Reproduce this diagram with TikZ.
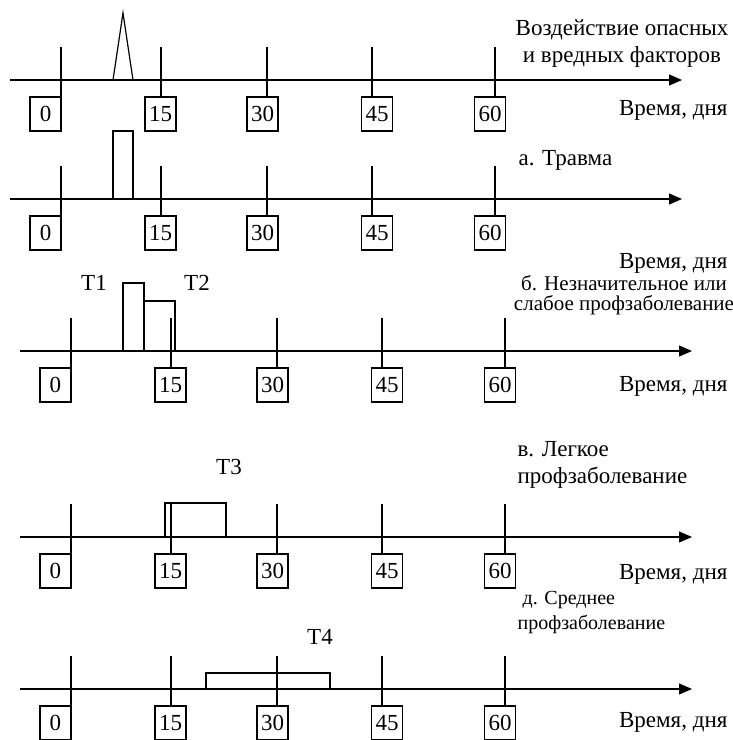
\documentclass[tikz,border=0pt]{standalone}
\usepackage{fontspec}
\setmainfont{Liberation Serif}
\usetikzlibrary{arrows.meta}

\begin{document}
\begin{tikzpicture}[x=0.5pt,y=-0.5pt,line width=0.6pt,
    day/.style={draw,inner sep=0pt,minimum width=15.5pt,minimum height=17pt,
      font=\fontsize{11.5}{13}\selectfont},
    lbl/.style={inner sep=0pt,font=\fontsize{11.5}{13.5}\selectfont},
    axis/.style={-{Triangle[length=6.5pt,width=5.5pt]}}]
  \useasboundingbox (0,0) rectangle (733,740);
  % five time axes with day marks
  \foreach \k/\dx/\ay in {1/0/80,2/0/199,3/10/351,4/10/537,5/10/689}{
    \begin{scope}[shift={(\dx,\ay)}]
      \coordinate (s\k) at (10,0); \coordinate (e\k) at (682,0);
      \draw[axis] (s\k) -- (e\k);
      \foreach \d/\tx/\bx in {0/61/45.5,15/161/160.5,30/267/262.5,45/372/377,60/495/490}{
        \node[day] (b\k-\d) at (\bx,34) {\d};
        \coordinate (t\k-\d) at (\tx,-33);
        \draw (t\k-\d) -- (t\k-\d |- b\k-\d.north);
      }
    \end{scope}
  }
  \foreach \k/\ty in {1/110,2/263,3/386,4/574,5/722}
    \node[lbl,anchor=east] (time\k) at (728,\ty) {Время, дня};
  % exposure and sick leave
  \draw (113,80) -- (123,13) -- (133,80);
  \draw (113,199) -- (113,131) -- (133,131) -- (133,199);
  \draw (123,351) -- (123,283) -- (144,283) -- (144,351);
  \draw (144,301) -- (175,301) -- (175,351);
  \draw (165,537) -- (165,503) -- (226,503) -- (226,537);
  \draw (206,689) -- (206,673) -- (330,673) -- (330,689);
  \node[lbl] (t1) at (94,283) {Т1};
  \node[lbl] (t2) at (197,283) {Т2};
  \node[lbl] (t3) at (229,467) {Т3};
  \node[lbl] (t4) at (320,637) {Т4};
  % captions
  \node[lbl,align=center] (hazard) at (622,43.5) {Воздействие опасных\\и вредных факторов};
  \node[lbl,anchor=west] (capa) at (518,160) {а. Травма};
  \node[lbl,align=center,font=\fontsize{10.5}{10}\selectfont] (capb) at (624,295)
    {б. Незначительное или\\слабое профзаболевание};
  \node[lbl,align=left,anchor=west] (capv) at (517,464.5) {в. Легкое\\профзаболевание};
  \node[lbl,align=left,anchor=west,font=\fontsize{10}{12.5}\selectfont] (capd) at (517,612.5)
    {\hspace*{2.5pt}д. Среднее\\профзаболевание};
\end{tikzpicture}
\end{document}
